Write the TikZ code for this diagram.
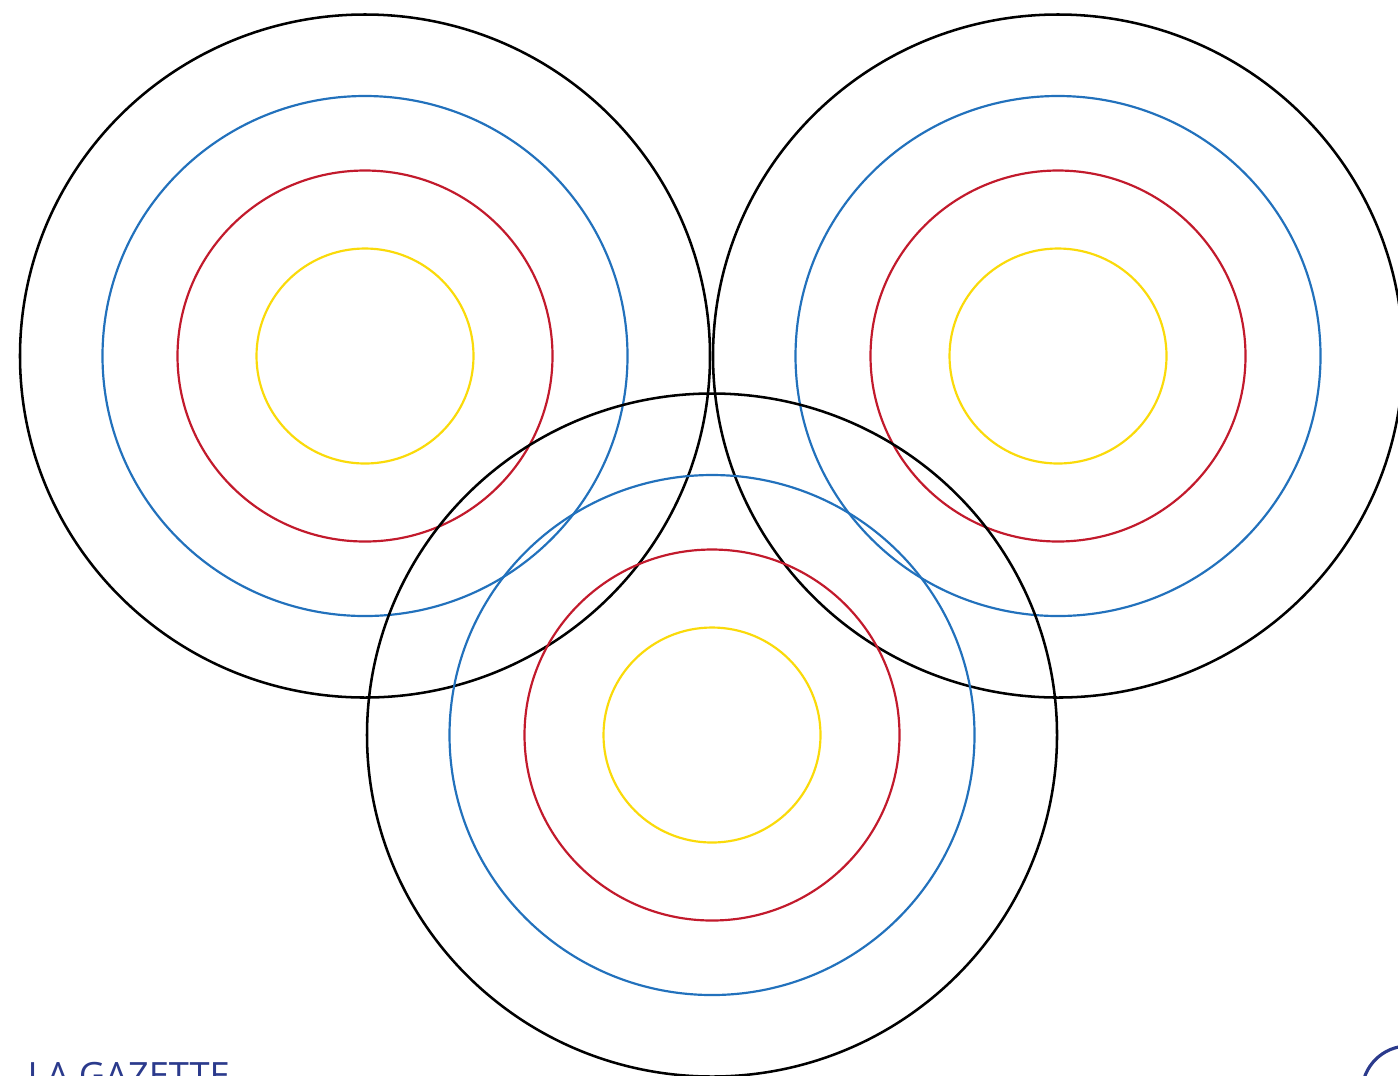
\documentclass[tikz,border=0pt]{standalone}
\usepackage{fontspec}
\newfontfamily\gazettefont{Open Sans}
\usetikzlibrary{positioning}

\definecolor{ringblue}{HTML}{2271BC}
\definecolor{ringred}{HTML}{C21A2C}
\definecolor{ringyellow}{HTML}{FADA0A}
\definecolor{gazetteblue}{HTML}{2B3A8C}

\begin{document}
\begin{tikzpicture}[x=0.01cm, y=-0.01cm]

    % Define the styles
    \tikzstyle{outerring} = [draw=black, line width=0.72pt]
    \tikzstyle{colorring} = [line width=0.62pt]

    \useasboundingbox (0,0) rectangle (1398,1075);

    % Targets
    \foreach \cx/\cy in {365/356, 1058/356, 712/735} {
        \draw [outerring] (\cx,\cy) ellipse [x radius=345, y radius=341.5];
        \draw [colorring, draw=ringblue] (\cx,\cy) ellipse [x radius=262.5, y radius=260];
        \draw [colorring, draw=ringred] (\cx,\cy) ellipse [x radius=187.5, y radius=185.5];
        \draw [colorring, draw=ringyellow] (\cx,\cy) ellipse [x radius=108.5, y radius=107.5];
    }

    % Footer
    \node (gazette) [anchor=base west, inner sep=0pt, text=gazetteblue, font=\gazettefont\fontsize{10.3}{12}\selectfont] at (27,1088) {LA GAZETTE};
    \draw [draw=gazetteblue, line width=0.9pt] (1408,1092) circle [radius=46];

\end{tikzpicture}
\end{document}
